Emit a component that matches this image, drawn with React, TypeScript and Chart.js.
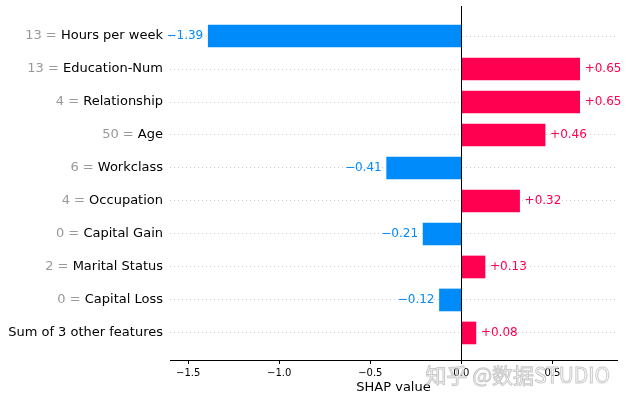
import React, { useEffect, useRef } from "react";
import { Chart, registerables } from "chart.js";

Chart.register(...registerables);

const featureValues = ["13", "13", "4", "50", "6", "4", "0", "2", "0", ""];
const featureNames = [
  "Hours per week",
  "Education-Num",
  "Relationship",
  "Age",
  "Workclass",
  "Occupation",
  "Capital Gain",
  "Marital Status",
  "Capital Loss",
  "Sum of 3 other features",
];
const shapValues = [-1.39, 0.65, 0.65, 0.46, -0.41, 0.32, -0.21, 0.13, -0.12, 0.08];
const xTickValues = [-1.5, -1.0, -0.5, 0.0, 0.5];
const xTickLabels = ["\u22121.5", "\u22121.0", "\u22120.5", "0.0", "0.5"];
const axisTitle = "SHAP value";
const watermark = "知乎 @数据STUDIO";

const BLUE = "#008bfb";
const RED = "#ff0051";
const FONT = "'DejaVu Sans', sans-serif";

const fmt = (v: number) => (v < 0 ? "\u2212" : "+") + Math.abs(v).toFixed(2);

const overlayPlugin = {
  id: "shapOverlay",
  afterDatasetsDraw(chart: any) {
    const ctx = chart.ctx;
    const xs = chart.scales.x;
    const ys = chart.scales.y;
    const area = chart.chartArea;
    const x0 = Math.round(xs.getPixelForValue(0)) + 0.5;
    ctx.save();
    ctx.strokeStyle = "#000";
    ctx.lineWidth = 1;
    ctx.beginPath();
    ctx.moveTo(x0, area.top);
    ctx.lineTo(x0, area.bottom);
    ctx.stroke();

    const meta = chart.getDatasetMeta(0);
    ctx.font = `12px ${FONT}`;
    ctx.textBaseline = "middle";
    meta.data.forEach((bar: any, i: number) => {
      const v = shapValues[i];
      if (v < 0) {
        ctx.fillStyle = BLUE;
        ctx.textAlign = "right";
        ctx.fillText(fmt(v), bar.x - 5, bar.y);
      } else {
        ctx.fillStyle = RED;
        ctx.textAlign = "left";
        ctx.fillText(fmt(v), bar.x + 5, bar.y);
      }
    });

    ctx.font = `13px ${FONT}`;
    ctx.textAlign = "right";
    const lx = area.left - 7;
    featureNames.forEach((name, i) => {
      const y = ys.getPixelForValue(i);
      ctx.fillStyle = "#000";
      ctx.fillText(name, lx, y);
      if (featureValues[i] !== "") {
        const w = ctx.measureText(name).width;
        ctx.fillStyle = "#999999";
        ctx.fillText(featureValues[i] + " = ", lx - w, y);
      }
    });
    ctx.restore();
  },
  afterDraw(chart: any) {
    const ctx = chart.ctx;
    ctx.save();
    ctx.font = `21px 'Noto Sans CJK SC', sans-serif`;
    ctx.textAlign = "right";
    ctx.textBaseline = "middle";
    ctx.lineWidth = 1;
    ctx.fillStyle = "rgba(255,255,255,0.55)";
    ctx.strokeStyle = "rgba(165,165,165,0.6)";
    ctx.fillText(watermark, 610, 375);
    ctx.strokeText(watermark, 610, 375);
    ctx.restore();
  },
};

export default function App() {
  const ref = useRef<HTMLCanvasElement | null>(null);
  useEffect(() => {
    if (!ref.current) return;
    Chart.defaults.font.family = FONT;
    const chart = new Chart(ref.current, {
      type: "bar",
      data: {
        datasets: [
          {
            data: shapValues.map((v, i) => ({ x: v, y: i })),
            backgroundColor: shapValues.map((v) => (v < 0 ? BLUE : RED)),
            borderWidth: 0,
            barThickness: 22,
          } as any,
        ],
      },
      options: {
        indexAxis: "y",
        animation: false,
        responsive: false,
        events: [],
        layout: { padding: { left: 0, right: 9, top: 6, bottom: 0 } },
        plugins: { legend: { display: false }, tooltip: { enabled: false } },
        scales: {
          x: {
            type: "linear",
            min: -1.6,
            max: 0.855,
            offset: false,
            afterBuildTicks: (scale: any) => {
              scale.ticks = xTickValues.map((v) => ({ value: v }));
            },
            afterFit: (scale: any) => {
              scale.height = 41;
            },
            ticks: {
              padding: 3,
              color: "#000",
              font: { size: 10, family: FONT },
              callback: (v: any) => {
                const idx = xTickValues.indexOf(Number(v));
                return idx >= 0 ? xTickLabels[idx] : "";
              },
            },
            grid: { drawOnChartArea: false, tickColor: "#000", tickLength: 4, tickWidth: 1 },
            border: { display: true, color: "#000", width: 1 },
            title: {
              display: true,
              text: axisTitle,
              color: "#000",
              font: { size: 13, family: FONT },
              padding: { top: 0, bottom: 6 },
            },
          },
          y: {
            type: "linear",
            reverse: true,
            offset: false,
            min: -0.91,
            max: 9.82,
            afterBuildTicks: (scale: any) => {
              scale.ticks = featureNames.map((_, i) => ({ value: i }));
            },
            afterFit: (scale: any) => {
              scale.width = 170;
            },
            ticks: { display: false },
            grid: { color: "#cccccc", lineWidth: 1, drawTicks: false, offset: false },
            border: { display: false, dash: [1, 3] },
          },
        },
      },
      plugins: [overlayPlugin],
    } as any);
    return () => chart.destroy();
  }, []);

  return (
    <div style={{ position: "fixed", left: 0, top: 0, width: 626, height: 401, background: "#fff" }}>
      <canvas ref={ref} width={626} height={401} style={{ width: 626, height: 401 }} />
    </div>
  );
}
